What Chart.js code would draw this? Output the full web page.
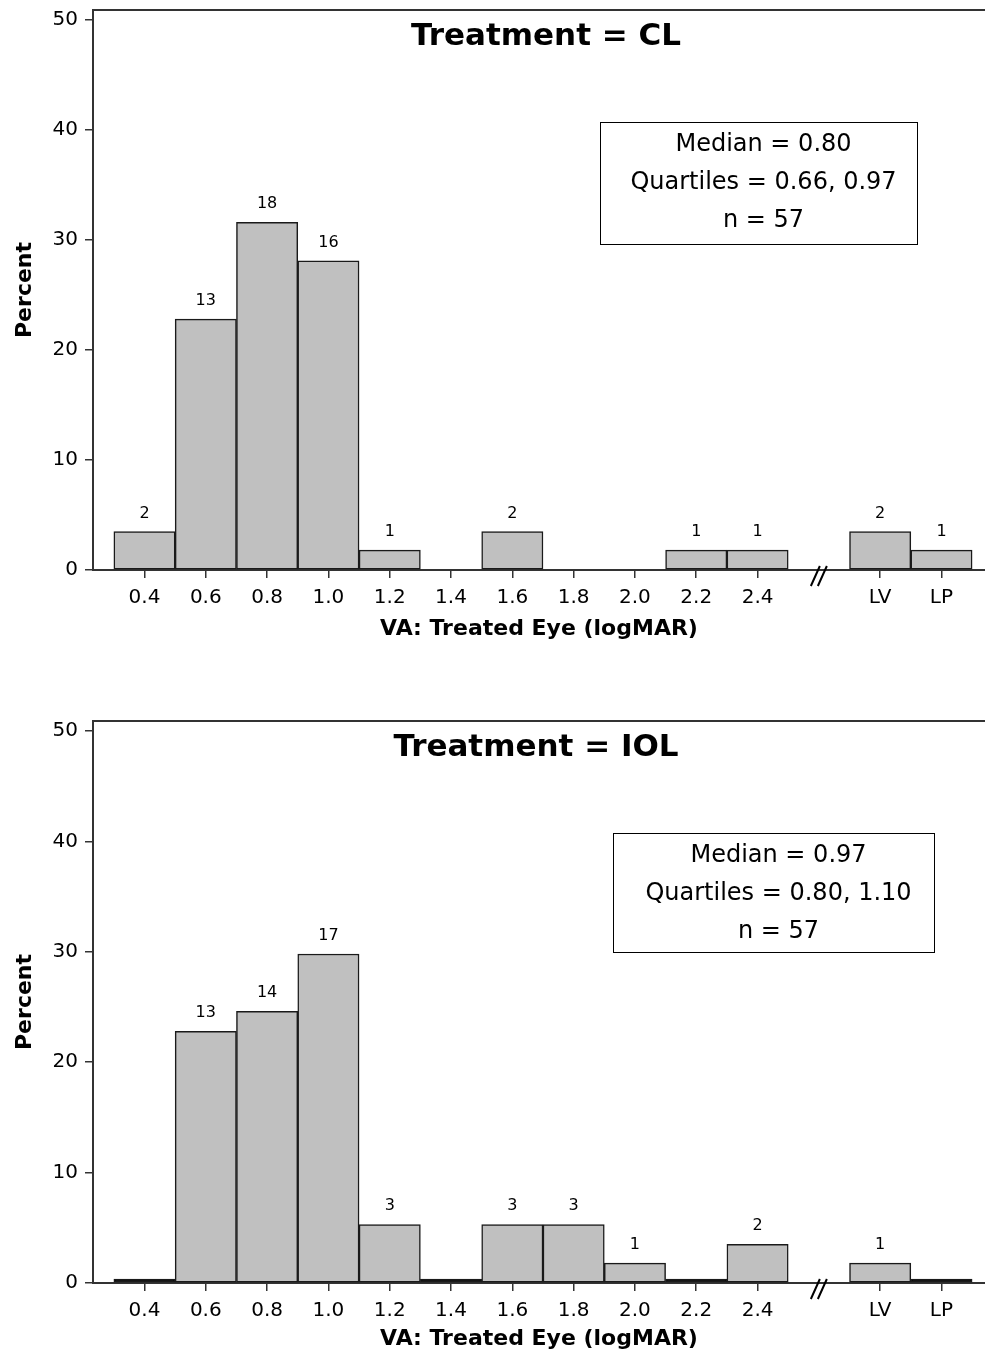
<!DOCTYPE html>
<html>
<head>
<meta charset="utf-8">
<script src="https://cdn.jsdelivr.net/npm/chart.js@4.4.0/dist/chart.umd.min.js"></script>
<style>
  body { margin: 0; background: #fff; }
  .panel { position: absolute; left: 0; width: 985px; }
  #p1 { top: 0; height: 642px; }
  #p2 { top: 711px; height: 644px; }
</style>
</head>
<body>
<div class="panel" id="p1"><canvas id="clChart" width="985" height="642"></canvas></div>
<div class="panel" id="p2"><canvas id="iolChart" width="985" height="644"></canvas></div>
<script>
// categories (blank slot = axis break)
const labels = ['0.4', '0.6', '0.8', '1.0', '1.2', '1.4', '1.6', '1.8', '2.0', '2.2', '2.4', '', 'LV', 'LP'];
const breakIndex = 11;

// CL panel
const clPercent = [3.5, 22.8, 31.6, 28.1, 1.8, 0, 3.5, 0, 0, 1.8, 1.8, null, 3.5, 1.8];
const clCounts  = [2, 13, 18, 16, 1, 0, 2, 0, 0, 1, 1, null, 2, 1];
const clStats   = ['Median = 0.80', 'Quartiles = 0.66, 0.97', 'n = 57'];

// IOL panel
const iolPercent = [0, 22.8, 24.6, 29.8, 5.3, 0, 5.3, 5.3, 1.8, 0, 3.5, null, 1.8, 0];
const iolCounts  = [0, 13, 14, 17, 3, 0, 3, 3, 1, 0, 2, null, 1, 0];
const iolStats   = ['Median = 0.97', 'Quartiles = 0.80, 1.10', 'n = 57'];

const yTicks = [0, 10, 20, 30, 40, 50];
const FONT = "'DejaVu Sans', Verdana, sans-serif";

function noPad(s) {
    s.paddingTop = 0; s.paddingBottom = 0; s.paddingLeft = 0; s.paddingRight = 0;
}

// frame line on top, axis break marks, count labels, title and stats box
const decorPlugin = {
    id: 'decor',
    afterDraw(chart, args, opts) {
        const ctx = chart.ctx;
        const area = chart.chartArea;
        const x = chart.scales.x;
        ctx.save();

        // top frame line
        ctx.strokeStyle = '#333';
        ctx.lineWidth = 2;
        ctx.beginPath();
        ctx.moveTo(area.left, area.top);
        ctx.lineTo(chart.width, area.top);
        ctx.stroke();

        // axis break "//"
        const bx = x.getPixelForValue(breakIndex);
        const by = area.bottom;
        ctx.strokeStyle = '#000';
        ctx.lineWidth = 2;
        ctx.beginPath();
        ctx.moveTo(bx - 8, by + 16); ctx.lineTo(bx + 1, by - 4);
        ctx.moveTo(bx - 1, by + 16); ctx.lineTo(bx + 8, by - 4);
        ctx.stroke();

        // counts above bars
        ctx.fillStyle = '#000';
        ctx.font = '16px ' + FONT;
        ctx.textAlign = 'center';
        ctx.textBaseline = 'alphabetic';
        chart.getDatasetMeta(0).data.forEach((bar, i) => {
            const c = opts.counts[i];
            if (c) ctx.fillText(String(c), bar.x, bar.y - 14);
        });

        // panel title
        ctx.font = 'bold 31px ' + FONT;
        ctx.textBaseline = 'middle';
        ctx.fillText(opts.title, opts.titleX, opts.titleY);

        // stats box
        const b = opts.box;
        ctx.strokeStyle = '#000';
        ctx.lineWidth = 1;
        ctx.strokeRect(b.x + 0.5, b.y + 0.5, b.w, b.h);
        ctx.font = '24px ' + FONT;
        opts.stats.forEach((t, i) => {
            ctx.fillText(t, b.x + b.w / 2 + 5, b.y + 23 + i * 38);
        });
        ctx.restore();
    }
};

function makeChart(id, percent, counts, stats, title, titleX, box, xTitlePad, minBar) {
    const points = labels.map((_, i) => ({ x: i, y: percent[i] }));
    return new Chart(document.getElementById(id), {
        type: 'bar',
        data: {
            datasets: [{
                data: points,
                backgroundColor: c => (minBar && c.raw && c.raw.y === 0) ? '#000' : '#c0c0c0',
                borderColor: '#1a1a1a',
                borderWidth: 1.5,
                borderSkipped: false,
                minBarLength: minBar,
                barPercentage: 1,
                categoryPercentage: 1
            }]
        },
        options: {
            responsive: false,
            animation: false,
            layout: { padding: { top: 10, right: 0, left: 0, bottom: 0 } },
            plugins: {
                legend: { display: false },
                tooltip: { enabled: false },
                decor: { counts, stats, title, titleX, titleY: 37, box }
            },
            scales: {
                x: {
                    type: 'linear',
                    offset: false,
                    min: -0.84,
                    max: 13.71,
                    afterFit: s => { s.height = 72; noPad(s); },
                    afterBuildTicks: s => {
                        s.ticks = labels.map((l, i) => ({ value: i })).filter(t => t.value !== breakIndex);
                    },
                    ticks: {
                        autoSkip: false,
                        maxRotation: 0,
                        padding: 8,
                        color: '#000',
                        font: { family: FONT, size: 20 },
                        callback: v => labels[v]
                    },
                    grid: { offset: false, drawOnChartArea: false, drawTicks: true, tickLength: 8, tickColor: '#333', lineWidth: 1.5 },
                    border: { color: '#333', width: 2 },
                    title: {
                        display: true,
                        text: 'VA: Treated Eye (logMAR)',
                        color: '#000',
                        font: { family: FONT, size: 22, weight: 'bold' },
                        padding: { top: 0, bottom: xTitlePad }
                    }
                },
                y: {
                    min: 0,
                    max: 50.91,
                    afterFit: s => { s.width = 93; noPad(s); },
                    afterBuildTicks: s => { s.ticks = yTicks.map(v => ({ value: v })); },
                    ticks: {
                        padding: 7,
                        color: '#000',
                        font: { family: FONT, size: 20 }
                    },
                    grid: { drawOnChartArea: false, drawTicks: true, tickLength: 8, tickColor: '#333', lineWidth: 1.5 },
                    border: { color: '#333', width: 2 },
                    title: {
                        display: true,
                        text: 'Percent',
                        color: '#000',
                        font: { family: FONT, size: 22, weight: 'bold' },
                        padding: { top: 12, bottom: 0 }
                    }
                }
            }
        },
        plugins: [decorPlugin]
    });
}

makeChart('clChart', clPercent, clCounts, clStats, 'Treatment = CL', 546,
    { x: 600, y: 122, w: 317, h: 122 }, 0, 0);
makeChart('iolChart', iolPercent, iolCounts, iolStats, 'Treatment = IOL', 536,
    { x: 613, y: 122, w: 321, h: 119 }, 3, 4);
</script>
</body>
</html>
